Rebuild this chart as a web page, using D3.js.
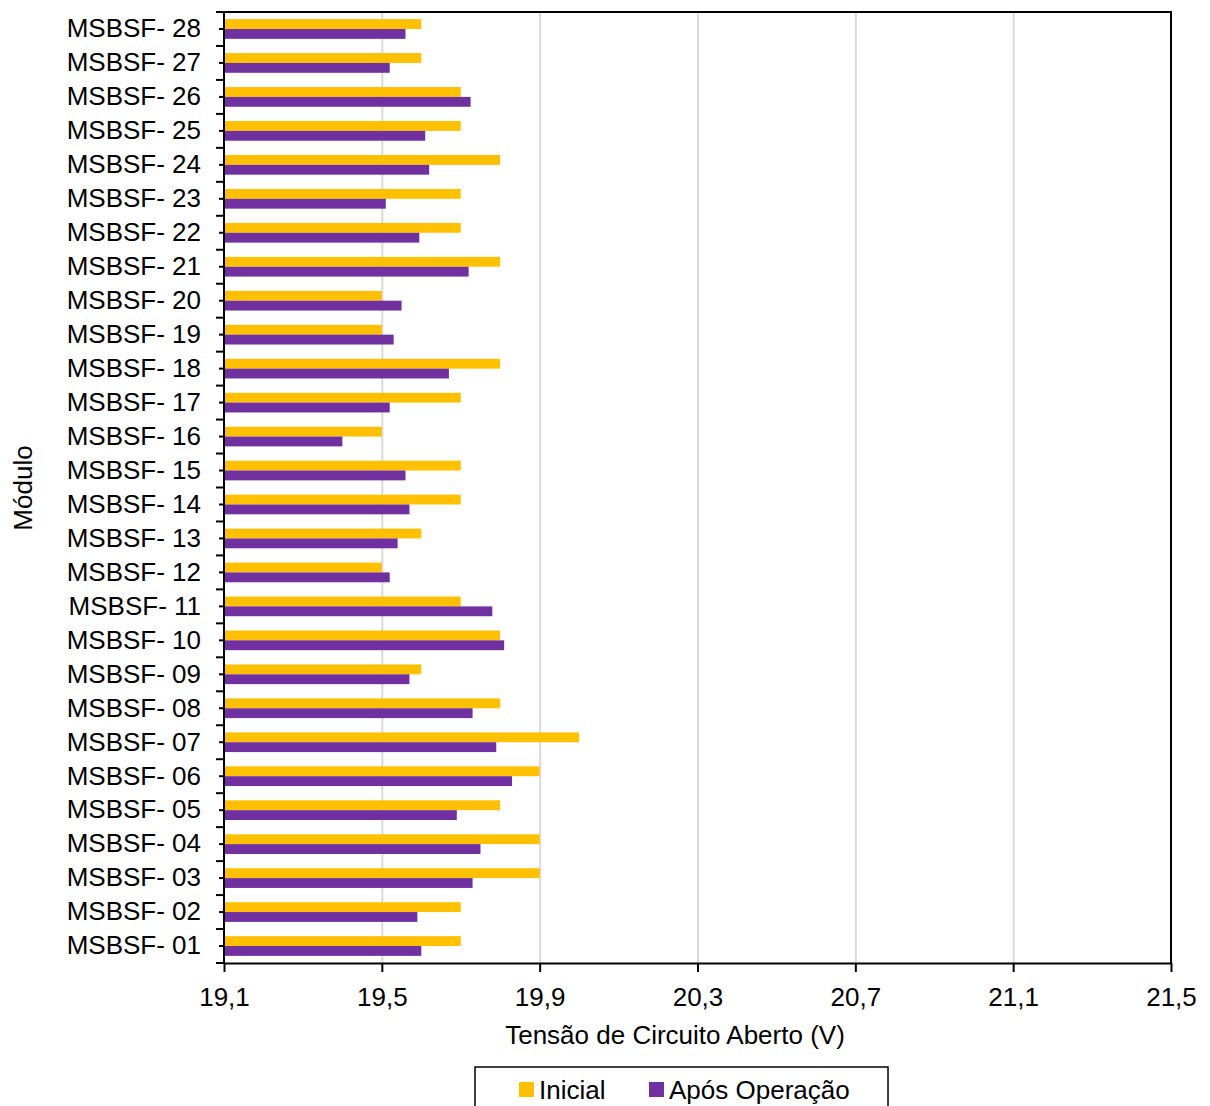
<!DOCTYPE html>
<html>
<head>
<meta charset="utf-8">
<script src="https://cdn.jsdelivr.net/npm/d3@7"></script>
<style>
  body { margin: 0; background: #fff; }
  text { font-family: "Liberation Sans", Arial, sans-serif; fill: #000; }
</style>
</head>
<body>
<svg id="chart"></svg>
<script>
// data
const modules = ['MSBSF- 01','MSBSF- 02','MSBSF- 03','MSBSF- 04','MSBSF- 05','MSBSF- 06','MSBSF- 07',
  'MSBSF- 08','MSBSF- 09','MSBSF- 10','MSBSF- 11','MSBSF- 12','MSBSF- 13','MSBSF- 14',
  'MSBSF- 15','MSBSF- 16','MSBSF- 17','MSBSF- 18','MSBSF- 19','MSBSF- 20','MSBSF- 21',
  'MSBSF- 22','MSBSF- 23','MSBSF- 24','MSBSF- 25','MSBSF- 26','MSBSF- 27','MSBSF- 28']
const inicial = [19.7, 19.7, 19.9, 19.9, 19.8, 19.9, 20.0, 19.8, 19.6, 19.8, 19.7, 19.5, 19.6, 19.7,
  19.7, 19.5, 19.7, 19.8, 19.5, 19.5, 19.8, 19.7, 19.7, 19.8, 19.7, 19.7, 19.6, 19.6]
const aposOperacao = [19.6, 19.59, 19.73, 19.75, 19.69, 19.83, 19.79, 19.73, 19.57, 19.81, 19.78, 19.52, 19.54, 19.57,
  19.56, 19.40, 19.52, 19.67, 19.53, 19.55, 19.72, 19.595, 19.51, 19.62, 19.61, 19.725, 19.52, 19.56]
const seriesNames = ['Inicial', 'Após Operação']
const seriesColors = ['#FFC000', '#7030A0']
const xMin = 19.1, xMax = 21.5
const majorTicks = [19.1, 19.5, 19.9, 20.3, 20.7, 21.1, 21.5]
const minorTicks = d3.range(0, 25).map(i => +(19.1 + i * 0.1).toFixed(1))

const width = 1210, height = 1106
const plotLeft = 224, plotRight = 1171, plotTop = 12, plotBottom = 963

const svg = d3.select('#chart').attr('width', width).attr('height', height)

const x = d3.scaleLinear().domain([xMin, xMax]).range([plotLeft, plotRight])

// 28 at the top
const y = d3.scaleBand()
    .domain(modules.slice().reverse())
    .range([plotTop, plotBottom])
    .paddingInner(0.42)
    .paddingOuter(0.21)

const ySub = d3.scaleBand()
    .domain(seriesNames)
    .range([0, y.bandwidth()])

const fmt = d => d3.format('.1f')(d).replace('.', ',')

// grid lines
svg.append('g')
    .attr('transform', `translate(0,${plotBottom})`)
    .call(d3.axisBottom(x).tickValues(majorTicks.slice(1, -1)).tickSize(-(plotBottom - plotTop)).tickFormat(''))
    .call(g => g.select('.domain').remove())
    .call(g => g.selectAll('line').attr('stroke', '#d9d9d9').attr('stroke-width', 2))

// bars
const rows = modules.map((m, i) => ({ m, values: [inicial[i], aposOperacao[i]] }))
const groups = svg.append('g').selectAll('g').data(rows).enter().append('g')
    .attr('transform', d => `translate(0,${y(d.m)})`)

groups.selectAll('rect')
    .data(d => d.values.map((v, k) => ({ v, k })))
    .enter().append('rect')
    .attr('x', x(xMin))
    .attr('y', d => ySub(seriesNames[d.k]))
    .attr('width', d => x(d.v) - x(xMin))
    .attr('height', ySub.bandwidth())
    .attr('fill', d => seriesColors[d.k])

// plot frame top / right
svg.append('path')
    .attr('d', `M${plotLeft},${plotTop}H${plotRight}V${plotBottom}`)
    .attr('fill', 'none').attr('stroke', '#000').attr('stroke-width', 2)

// x axis
const xAxis = svg.append('g').attr('transform', `translate(0,${plotBottom})`)
xAxis.call(d3.axisBottom(x).tickValues(minorTicks).tickSize(9).tickSizeOuter(0).tickFormat(''))
xAxis.call(d3.axisBottom(x).tickValues(majorTicks).tickSize(9).tickSizeOuter(0).tickPadding(16).tickFormat(fmt))
xAxis.selectAll('.domain, line').attr('stroke', '#000').attr('stroke-width', 2)
xAxis.selectAll('text').attr('font-size', 26).attr('font-family', '"Liberation Sans", Arial, sans-serif').attr('fill', '#000')

// y axis
const yAxis = svg.append('g').attr('transform', `translate(${plotLeft},0)`)
yAxis.call(d3.axisLeft(y).tickSize(5).tickSizeOuter(0).tickPadding(18))
yAxis.selectAll('text').attr('font-size', 26).attr('font-family', '"Liberation Sans", Arial, sans-serif').attr('fill', '#000')
yAxis.selectAll('.domain, line').attr('stroke', '#000').attr('stroke-width', 2)
yAxis.select('.domain').attr('d', `M0,${plotTop}V${plotBottom}`)

// category boundary ticks
const step = y.step()
const bounds = modules.map(m => y(m) - step * y.paddingInner() / 2).concat([plotBottom])
yAxis.selectAll('.bound').data(bounds).enter().append('line')
    .attr('x1', -8).attr('x2', 0)
    .attr('y1', d => d).attr('y2', d => d)
    .attr('stroke', '#000').attr('stroke-width', 2)

// axis titles
svg.append('text')
    .attr('x', 675).attr('y', 1044)
    .attr('text-anchor', 'middle').attr('font-size', 26)
    .text('Tensão de Circuito Aberto (V)')

svg.append('text')
    .attr('transform', 'translate(32,488) rotate(-90)')
    .attr('text-anchor', 'middle').attr('font-size', 26)
    .text('Módulo')

// legend
const legend = svg.append('g')
legend.append('rect')
    .attr('x', 475).attr('y', 1067).attr('width', 413).attr('height', 60)
    .attr('fill', '#fff').attr('stroke', '#000').attr('stroke-width', 1.5)

const legendX = [519, 649]
seriesNames.forEach((s, i) => {
    legend.append('rect')
        .attr('x', legendX[i]).attr('y', 1082).attr('width', 15).attr('height', 15)
        .attr('fill', seriesColors[i])
    legend.append('text')
        .attr('x', legendX[i] + 20).attr('y', 1099)
        .attr('font-size', 26)
        .text(s)
})
</script>
</body>
</html>
